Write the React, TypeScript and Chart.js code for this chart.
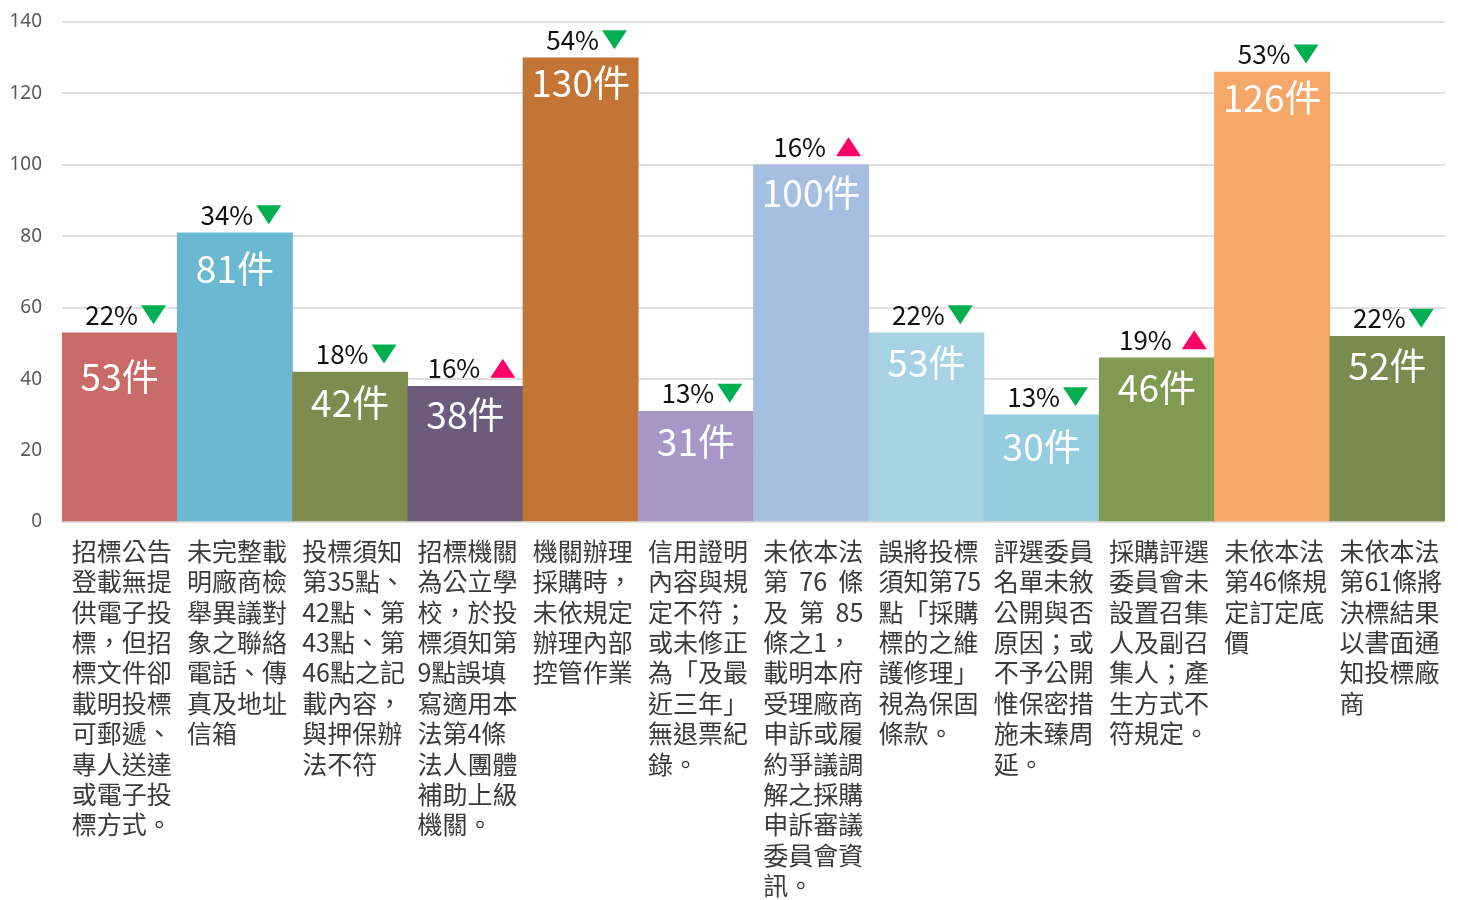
import React, { useEffect, useRef } from "react";
import { Chart, registerables } from "chart.js";

Chart.register(...registerables);

const categories: string[][] = [
  ["招標公告", "登載無提", "供電子投", "標，但招", "標文件卻", "載明投標", "可郵遞、", "專人送達", "或電子投", "標方式。"],
  ["未完整載", "明廠商檢", "舉異議對", "象之聯絡", "電話、傳", "真及地址", "信箱"],
  ["投標須知", "第35點、", "42點、第", "43點、第", "46點之記", "載內容，", "與押保辦", "法不符"],
  ["招標機關", "為公立學", "校，於投", "標須知第", "9點誤填", "寫適用本", "法第4條", "法人團體", "補助上級", "機關。"],
  ["機關辦理", "採購時，", "未依規定", "辦理內部", "控管作業"],
  ["信用證明", "內容與規", "定不符；", "或未修正", "為「及最", "近三年」", "無退票紀", "錄。"],
  ["未依本法", "第  76  條", "及  第  85", "條之1，", "載明本府", "受理廠商", "申訴或履", "約爭議調", "解之採購", "申訴審議", "委員會資", "訊。"],
  ["誤將投標", "須知第75", "點「採購", "標的之維", "護修理」", "視為保固", "條款。"],
  ["評選委員", "名單未敘", "公開與否", "原因；或", "不予公開", "惟保密措", "施未臻周", "延。"],
  ["採購評選", "委員會未", "設置召集", "人及副召", "集人；產", "生方式不", "符規定。"],
  ["未依本法", "第46條規", "定訂定底", "價"],
  ["未依本法", "第61條將", "決標結果", "以書面通", "知投標廠", "商"],
];

const counts: number[] = [53, 81, 42, 38, 130, 31, 100, 53, 30, 46, 126, 52];
const percents: number[] = [22, 34, 18, 16, 54, 13, 16, 22, 13, 19, 53, 22];
const trends: string[] = ["down", "down", "down", "up", "down", "down", "up", "down", "down", "up", "down", "down"];
const barColors: string[] = [
  "#C86B69", "#6BB8D2", "#7F8C4F", "#6C5B7B", "#C37536", "#A897C6",
  "#A6BFE0", "#A6D3E4", "#95CCDE", "#809A52", "#F5A767", "#7A8B50",
];
const yTicks: number[] = [0, 20, 40, 60, 80, 100, 120, 140];

const FONT = "'Noto Sans CJK TC', 'Noto Sans', sans-serif";
// vertical nudge of the white count label below each bar top (style only)
const countLabelNudge = [44, 36, 31, 29, 25, 31, 28, 30, 32, 30, 26, 30];

const labelPlugin = {
  id: "barLabels",
  afterDatasetsDraw(chart: any) {
    const ctx = chart.ctx;
    const meta = chart.getDatasetMeta(0);
    ctx.save();
    meta.data.forEach((el: any, i: number) => {
      const x = el.x;
      const top = el.y;
      ctx.fillStyle = "#FFFFFF";
      ctx.font = `37px ${FONT}`;
      ctx.textAlign = "center";
      ctx.textBaseline = "middle";
      ctx.fillText(`${counts[i]}件`, x, top + countLabelNudge[i]);
      const txt = `${percents[i]}%`;
      ctx.font = `26px ${FONT}`;
      const w = ctx.measureText(txt).width;
      const up = trends[i] === "up";
      const triW = 25;
      const triH = 19;
      const gap = up ? 10 : 3;
      const total = w + gap + triW;
      const sx = x - total / 2 + 6;
      const cy = top - 18;
      ctx.fillStyle = "#111111";
      ctx.textAlign = "left";
      ctx.fillText(txt, sx, cy);
      const tx = sx + w + gap;
      ctx.beginPath();
      if (up) {
        ctx.fillStyle = "#FF0066";
        ctx.moveTo(tx, cy + triH / 2);
        ctx.lineTo(tx + triW, cy + triH / 2);
        ctx.lineTo(tx + triW / 2, cy - triH / 2);
      } else {
        ctx.fillStyle = "#00B050";
        ctx.moveTo(tx, cy - triH / 2);
        ctx.lineTo(tx + triW, cy - triH / 2);
        ctx.lineTo(tx + triW / 2, cy + triH / 2);
      }
      ctx.closePath();
      ctx.fill();
    });
    ctx.restore();
  },
};

export default function App() {
  const canvasRef = useRef<HTMLCanvasElement | null>(null);

  useEffect(() => {
    if (!canvasRef.current) return;
    const chart = new Chart(canvasRef.current, {
      type: "bar",
      data: {
        labels: categories,
        datasets: [
          {
            data: counts,
            backgroundColor: barColors,
            borderWidth: 0,
            barPercentage: 1,
            categoryPercentage: 1,
          },
        ],
      },
      options: {
        animation: false,
        responsive: false,
        maintainAspectRatio: false,
        layout: { padding: { top: 22, right: 13, bottom: 0, left: 0 } },
        plugins: {
          legend: { display: false },
          tooltip: { enabled: false },
          title: { display: false },
        },
        scales: {
          x: {
            grid: { display: false },
            border: { display: false },
            ticks: {
              autoSkip: false,
              maxRotation: 0,
              minRotation: 0,
              align: "start",
              labelOffset: -48,
              padding: 6,
              color: "#3A3A3A",
              font: { family: FONT, size: 25, lineHeight: 1.216 },
            },
            afterFit(scale: any) {
              scale.height = 378;
              scale.paddingLeft = 0;
              scale.paddingRight = 0;
              scale.paddingTop = 0;
              scale.paddingBottom = 0;
            },
          },
          y: {
            min: 0,
            max: 140,
            afterBuildTicks(scale: any) {
              scale.ticks = yTicks.map((v) => ({ value: v }));
            },
            grid: { color: "#E0E0E0", lineWidth: 2, drawTicks: false },
            border: { display: false },
            ticks: {
              padding: 20,
              color: "#595959",
              font: { family: "'Noto Sans', sans-serif", size: 19 },
            },
            afterFit(scale: any) {
              scale.width = 62;
              scale.paddingLeft = 0;
              scale.paddingRight = 0;
              scale.paddingTop = 0;
              scale.paddingBottom = 0;
            },
          },
        },
      },
      plugins: [labelPlugin],
    });
    return () => chart.destroy();
  }, []);

  return (
    <div style={{ position: "absolute", left: 0, top: 0, width: 1458, height: 900, background: "#FFFFFF" }}>
      <canvas ref={canvasRef} width={1458} height={900} style={{ display: "block" }} />
    </div>
  );
}
